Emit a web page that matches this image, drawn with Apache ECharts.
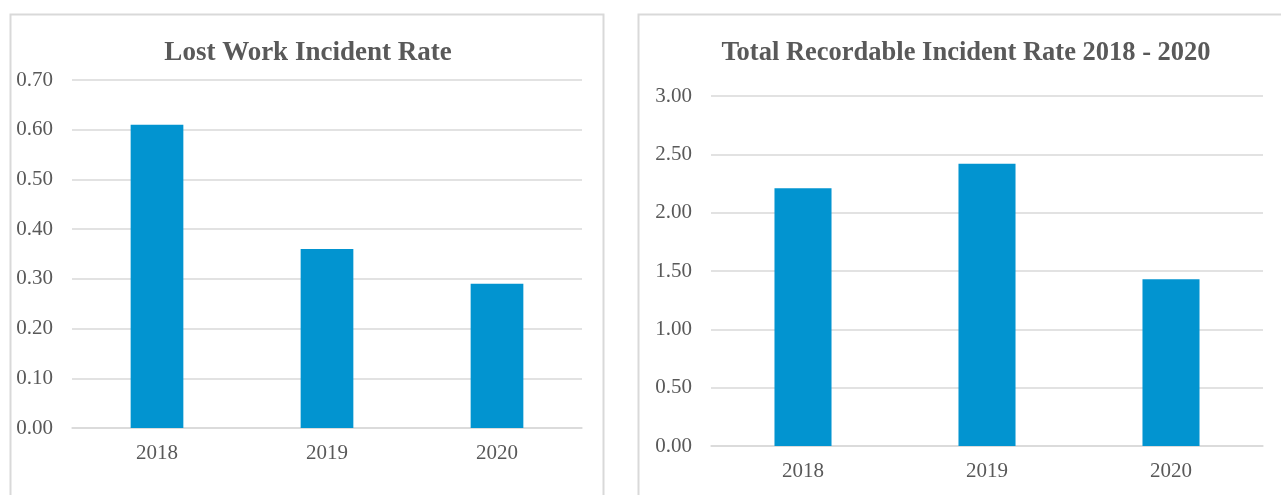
<!DOCTYPE html>
<html>
<head>
<meta charset="utf-8">
<script src="https://cdn.jsdelivr.net/npm/echarts@6/dist/echarts.min.js"></script>
<style>
  html, body { margin: 0; padding: 0; background: #fff; }
  #main { width: 1281px; height: 495px; }
</style>
</head>
<body>
<div id="main"></div>
<script>
// 数据
var years = ['2018', '2019', '2020'];
var lostWorkRate = [0.61, 0.36, 0.29];
var recordableRate = [2.21, 2.42, 1.43];
var lostWorkTicks = { min: 0, max: 0.7, interval: 0.1 };
var recordableTicks = { min: 0, max: 3, interval: 0.5 };

var chartDom = document.getElementById('main');
var myChart = echarts.init(chartDom, null, { renderer: 'canvas' });

var textColor = '#595959';
var gridColor = '#d9d9d9';
var barColor = '#0294d0';
var fontFamily = '"Liberation Serif", "Times New Roman", serif';

function yAxisOf(gridIndex, ticks) {
    return {
        type: 'value',
        gridIndex: gridIndex,
        min: ticks.min,
        max: ticks.max,
        interval: ticks.interval,
        axisLine: { show: false },
        axisTick: { show: false },
        axisLabel: {
            color: textColor,
            fontFamily: fontFamily,
            fontSize: 21,
            margin: 19,
            formatter: function (v) { return v.toFixed(2); }
        },
        splitLine: { lineStyle: { color: gridColor, width: 1.5 } }
    };
}

function xAxisOf(gridIndex) {
    return {
        type: 'category',
        gridIndex: gridIndex,
        data: years,
        axisLine: { lineStyle: { color: gridColor, width: 1.5 } },
        axisTick: { show: false },
        axisLabel: {
            color: textColor,
            fontFamily: fontFamily,
            fontSize: 21,
            margin: 15
        }
    };
}

var option = {
    animation: false,
    graphic: [
        {   // 左边框
            type: 'rect',
            shape: { x: 10.5, y: 14.5, width: 593, height: 520 },
            style: { fill: null, stroke: gridColor, lineWidth: 2 },
            silent: true
        },
        {   // 右边框
            type: 'rect',
            shape: { x: 638.5, y: 14.5, width: 700, height: 520 },
            style: { fill: null, stroke: gridColor, lineWidth: 2 },
            silent: true
        }
    ],
    title: [
        {
            text: 'Lost Work Incident Rate',
            left: 303,
            top: 35,
            textAlign: 'center',
            textStyle: { color: textColor, fontFamily: fontFamily, fontSize: 27, fontWeight: 'bold' }
        },
        {
            text: 'Total Recordable Incident Rate 2018 - 2020',
            left: 961,
            top: 35,
            textAlign: 'center',
            textStyle: { color: textColor, fontFamily: fontFamily, fontSize: 26.5, fontWeight: 'bold' }
        }
    ],
    grid: [
        { left: 72, right: 699, top: 80, bottom: 67 },
        { left: 711, right: 18, top: 96, bottom: 49 }
    ],
    xAxis: [xAxisOf(0), xAxisOf(1)],
    yAxis: [yAxisOf(0, lostWorkTicks), yAxisOf(1, recordableTicks)],
    series: [
        {
            type: 'bar',
            xAxisIndex: 0,
            yAxisIndex: 0,
            data: lostWorkRate,
            barWidth: '31%',
            itemStyle: { color: barColor }
        },
        {
            type: 'bar',
            xAxisIndex: 1,
            yAxisIndex: 1,
            data: recordableRate,
            barWidth: '31%',
            itemStyle: { color: barColor }
        }
    ]
};

myChart.setOption(option);
</script>
</body>
</html>
